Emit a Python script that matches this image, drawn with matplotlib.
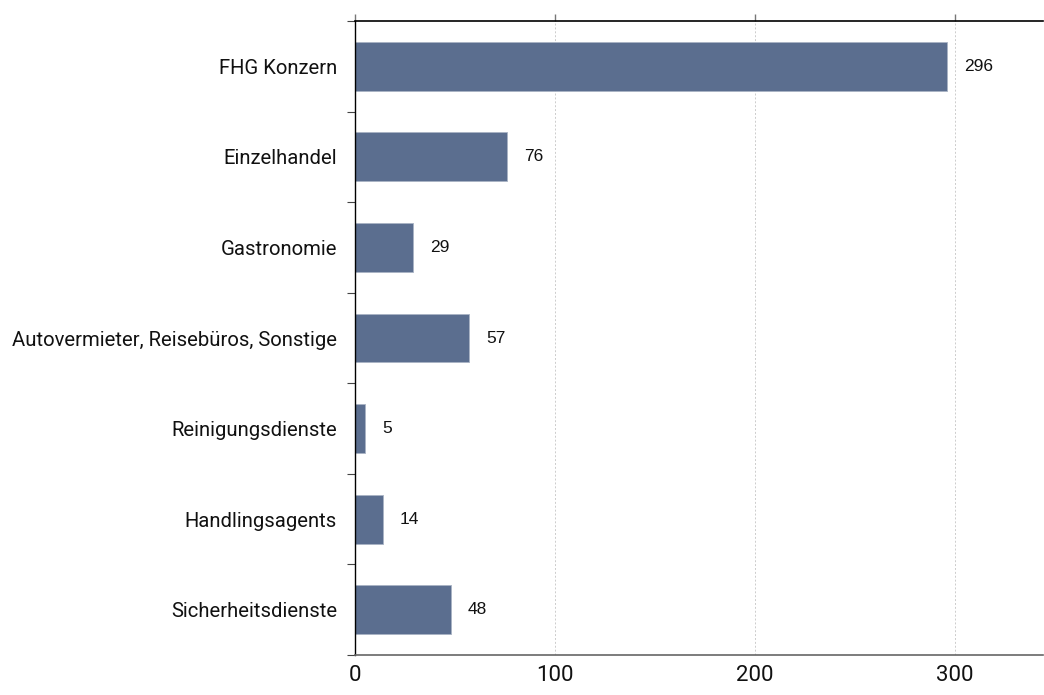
import matplotlib
matplotlib.use("Agg")
import matplotlib.pyplot as plt

# Daten
kategorien = ["FHG Konzern", "Einzelhandel", "Gastronomie",
              "Autovermieter, Reisebüros, Sonstige", "Reinigungsdienste",
              "Handlingsagents", "Sicherheitsdienste"]
werte = [296, 76, 29, 57, 5, 14, 48]
x_ticks = [0, 100, 200, 300]

schmal = "Roboto"

fig = plt.figure(figsize=(10.44, 6.95), dpi=100)
ax = fig.add_axes([355 / 1044, 1 - 655 / 695, (1043 - 355) / 1044, (655 - 21) / 695])

pos = list(range(len(kategorien)))
ax.barh(pos, werte, height=0.54, color="#5b6e8f", edgecolor="#a9b3c4", linewidth=0.6, zorder=2)
for p, w in zip(pos, werte):
    ax.text(w + 8.5, p, str(w), va="center", ha="left", fontsize=12.5,
            family="Liberation Sans", color="#111111")

ax.set_ylim(len(kategorien) - 0.5, -0.5)
ax.set_xlim(0, 344)

# Kategorien als Minor-Ticks, Trennstriche als Major-Ticks
ax.set_yticks([p + 0.5 for p in range(-1, len(kategorien))])
ax.set_yticklabels([])
ax.set_yticks(pos, minor=True)
ax.set_yticklabels(kategorien, minor=True, fontsize=14.6, family=schmal, color="#111111")
ax.tick_params(axis="y", which="minor", length=0, pad=13)
ax.tick_params(axis="y", which="major", length=6, width=0.8, color="#444444", direction="out")

ax.set_xticks(x_ticks)
ax.set_xticklabels([str(t) for t in x_ticks], fontsize=16, family=schmal, color="#111111")
ax.tick_params(axis="x", which="major", top=True, bottom=False, labeltop=False, labelbottom=True,
               length=5, width=1.0, color="#777777", pad=2)
ax.grid(axis="x", color="#cccccc", linestyle=(0, (2, 2)), linewidth=0.7, zorder=0)

ax.spines["right"].set_visible(False)
ax.spines["top"].set_color("black")
ax.spines["top"].set_linewidth(1.2)
ax.spines["left"].set_color("black")
ax.spines["left"].set_linewidth(1.0)
ax.spines["bottom"].set_color("#666666")
ax.spines["bottom"].set_linewidth(1.2)

fig.savefig("out.png", dpi=100)
